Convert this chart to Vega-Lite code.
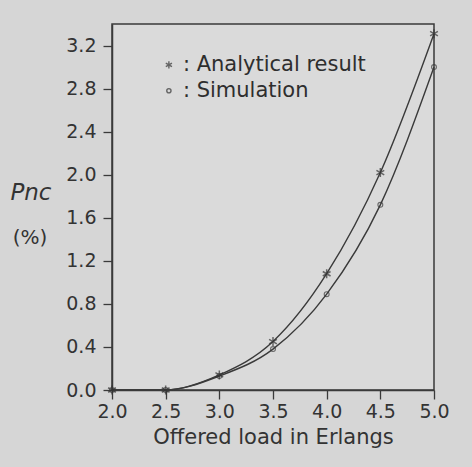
{
  "$schema": "https://vega.github.io/schema/vega-lite/v6.json",
  "autosize": "none",
  "width": 322,
  "height": 366,
  "padding": {"left": 112, "top": 24, "right": 38, "bottom": 77},
  "background": "#d6d6d6",
  "config": {
    "font": "DejaVu Sans",
    "view": {"stroke": "#3a3a3a", "strokeWidth": 1.5, "fill": "#dadada"},
    "axis": {"domainColor": "#3a3a3a", "tickColor": "#3a3a3a", "labelColor": "#333333", "titleColor": "#333333", "grid": false, "labelFont": "DejaVu Sans", "titleFont": "DejaVu Sans", "labelFontSize": 19, "titleFontSize": 21, "titleFontWeight": "normal", "domainWidth": 1.5, "tickWidth": 1.3, "labelFlush": false, "labelOverlap": false}
  },
  "datasets": {
    "curves": [
      {"load": 2.0, "pnc": 0.0, "series": "Analytical result"},
      {"load": 2.5, "pnc": 0.0, "series": "Analytical result"},
      {"load": 3.0, "pnc": 0.14, "series": "Analytical result"},
      {"load": 3.5, "pnc": 0.45, "series": "Analytical result"},
      {"load": 4.0, "pnc": 1.08, "series": "Analytical result"},
      {"load": 4.5, "pnc": 2.02, "series": "Analytical result"},
      {"load": 5.0, "pnc": 3.31, "series": "Analytical result"},
      {"load": 2.0, "pnc": 0.0, "series": "Simulation"},
      {"load": 2.5, "pnc": 0.0, "series": "Simulation"},
      {"load": 3.0, "pnc": 0.13, "series": "Simulation"},
      {"load": 3.5, "pnc": 0.38, "series": "Simulation"},
      {"load": 4.0, "pnc": 0.89, "series": "Simulation"},
      {"load": 4.5, "pnc": 1.72, "series": "Simulation"},
      {"load": 5.0, "pnc": 3.0, "series": "Simulation"}
    ],
    "key": [
      {"load": 2.53, "pnc": 3.02, "series": "Analytical result", "label": ": Analytical result"},
      {"load": 2.53, "pnc": 2.78, "series": "Simulation", "label": ": Simulation"}
    ],
    "ytitle1": [{"load": 1.245, "pnc": 1.83, "label": "Pnc"}],
    "ytitle2": [{"load": 1.236, "pnc": 1.41, "label": "(%)"}]
  },
  "layer": [
    {
      "data": {"name": "curves"},
      "mark": {"type": "line", "interpolate": "monotone", "color": "#3a3a3a", "strokeWidth": 1.4},
      "encoding": {
        "x": {"field": "load", "type": "quantitative", "scale": {"domain": [2.0, 5.0], "nice": false}, "axis": {"values": [2.0, 2.5, 3.0, 3.5, 4.0, 4.5, 5.0], "format": ".1f", "tickSize": 9, "labelPadding": 3, "title": "Offered load in Erlangs", "titlePadding": 5}},
        "y": {"field": "pnc", "type": "quantitative", "scale": {"domain": [0, 3.4], "nice": false}, "axis": {"values": [0, 0.2, 0.4, 0.6, 0.8, 1.0, 1.2, 1.4, 1.6, 1.8, 2.0, 2.2, 2.4, 2.6, 2.8, 3.0, 3.2], "labelExpr": "round(datum.value*10) % 4 == 0 ? format(datum.value, '.1f') : ''", "tickSize": 9, "labelPadding": 7, "title": null}},
        "detail": {"field": "series"}
      }
    },
    {
      "data": {"name": "curves"},
      "transform": [{"filter": "datum.series == 'Analytical result'"}],
      "mark": {"type": "point", "shape": "M0,-1L0,1M-0.87,-0.5L0.87,0.5M-0.87,0.5L0.87,-0.5", "size": 80, "stroke": "#333333", "strokeWidth": 1.5, "filled": false},
      "encoding": {"x": {"field": "load", "type": "quantitative"}, "y": {"field": "pnc", "type": "quantitative"}}
    },
    {
      "data": {"name": "curves"},
      "transform": [{"filter": "datum.series == 'Simulation'"}],
      "mark": {"type": "point", "shape": "circle", "size": 24, "stroke": "#3a3a3a", "strokeWidth": 1.1, "filled": false},
      "encoding": {"x": {"field": "load", "type": "quantitative"}, "y": {"field": "pnc", "type": "quantitative"}}
    },
    {
      "data": {"name": "key"},
      "mark": {"type": "point", "stroke": "#333333", "filled": false, "strokeWidth": 1.4},
      "encoding": {
        "x": {"field": "load", "type": "quantitative"},
        "y": {"field": "pnc", "type": "quantitative"},
        "shape": {"field": "series", "type": "nominal", "scale": {"domain": ["Analytical result", "Simulation"], "range": ["M0,-1L0,1M-0.87,-0.5L0.87,0.5M-0.87,0.5L0.87,-0.5", "circle"]}, "legend": null},
        "size": {"field": "series", "type": "nominal", "scale": {"domain": ["Analytical result", "Simulation"], "range": [50, 18]}, "legend": null}
      }
    },
    {
      "data": {"name": "key"},
      "mark": {"type": "text", "align": "left", "baseline": "alphabetic", "dx": 14, "dy": 6, "fontSize": 21, "font": "DejaVu Sans", "color": "#2e2e2e"},
      "encoding": {
        "x": {"field": "load", "type": "quantitative"},
        "y": {"field": "pnc", "type": "quantitative"},
        "text": {"field": "label"}
      }
    },
    {
      "data": {"name": "ytitle1"},
      "mark": {"type": "text", "align": "center", "baseline": "middle", "fontSize": 23, "fontStyle": "italic", "font": "DejaVu Sans", "color": "#333333"},
      "encoding": {
        "x": {"field": "load", "type": "quantitative"},
        "y": {"field": "pnc", "type": "quantitative"},
        "text": {"field": "label"}
      }
    },
    {
      "data": {"name": "ytitle2"},
      "mark": {"type": "text", "align": "center", "baseline": "middle", "fontSize": 20, "font": "DejaVu Sans", "color": "#333333"},
      "encoding": {
        "x": {"field": "load", "type": "quantitative"},
        "y": {"field": "pnc", "type": "quantitative"},
        "text": {"field": "label"}
      }
    }
  ]
}
